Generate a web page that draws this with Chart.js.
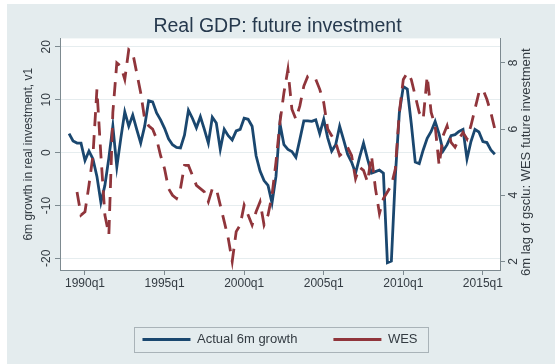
<!DOCTYPE html>
<html>
<head>
<meta charset="utf-8">
<script src="https://cdn.jsdelivr.net/npm/chart.js@4/dist/chart.umd.min.js"></script>
<style>
  html, body { margin: 0; padding: 0; background: #fff; }
  canvas { display: block; }
</style>
</head>
<body>
<canvas id="gdp" width="555" height="364"></canvas>
<script>
// quarterly series, 1989q1 .. 2015q4 (index 0 = 1989q1)
const firstQuarter = -4; // quarters relative to 1990q1

const actualGrowth = [
  3.6, 2.2, 1.8, 1.8,       // 1989
  -1.5, 0.3, -1.2, -4.5,    // 1990
  -9.4, -6.2, -1.0, 5.0,    // 1991
  -2.7, 2.7, 7.7, 5.0,      // 1992
  7.1, 4.4, 1.8, 5.0,       // 1993
  9.8, 9.6, 7.5, 6.2,       // 1994
  4.6, 2.6, 1.5, 1.0,       // 1995
  0.9, 3.3, 8.0, 6.5,       // 1996
  4.7, 6.8, 4.4, 1.8,       // 1997
  6.7, 5.6, 0.6, 4.4,       // 1998
  3.2, 2.4, 4.1, 4.4,       // 1999
  6.5, 6.3, 5.0, -0.6,      // 2000
  -3.5, -5.3, -6.2, -9.5,   // 2001
  -4.5, 5.5, 1.5, 0.6,      // 2002
  0.2, -0.9, 2.5, 6.0,      // 2003
  6.0, 5.9, 6.2, 3.6,       // 2004
  6.3, 2.8, 0.3, 1.5,       // 2005
  5.0, 2.4, -0.3, -1.8,     // 2006
  -3.9, -0.9, 1.8, -1.2,    // 2007
  -3.9, -3.6, -3.3, -3.9,   // 2008
  -20.8, -20.5, -4.4, 7.5,  // 2009
  12.5, 12.0, 5.5, -1.8,    // 2010
  -2.1, 0.5, 2.7, 4.0,      // 2011
  5.9, 3.5, 0.3, 1.5,       // 2012
  3.2, 3.4, 4.0, 4.4,       // 2013
  -1.2, 2.1, 4.4, 3.9,      // 2014
  2.1, 1.9, 0.5, -0.3       // 2015
];

const wesLag = [
  null, null, 4.1, 3.4,     // 1989
  3.5, 4.3, 5.2, 7.2,       // 1990
  5.2, 3.4, 2.8, 6.5,       // 1991
  8.0, 7.9, 7.5, 8.4,       // 1992
  8.3, 7.7, 7.1, 6.3,       // 1993
  6.1, 6.0, 5.7, 5.2,       // 1994
  4.8, 4.2, 4.0, 3.9,       // 1995
  4.2, 4.9, 4.9, 4.6,       // 1996
  4.3, 4.2, 4.1, 3.8,       // 1997
  4.2, 4.2, 3.7, 3.2,       // 1998
  2.7, 2.0, 2.9, 3.1,       // 1999
  3.7, 3.4, 3.1, 3.5,       // 2000
  3.8, 3.1, 3.4, 4.0,       // 2001
  5.0, 6.2, 7.1, 7.8,       // 2002
  6.6, 6.3, 6.7, 7.3,       // 2003
  7.6, 7.6, 7.5, 7.2,       // 2004
  6.8, 6.0, 5.8, 5.6,       // 2005
  5.2, 5.3, 5.45, 5.2,      // 2006
  4.5, 4.85, 4.75, 4.4,     // 2007
  5.2, 4.2, 3.45, 3.9,      // 2008
  4.1, 4.3, 4.8, 6.5,       // 2009
  7.5, 7.7, 7.5, 7.0,       // 2010
  6.5, 6.3, 7.6, 6.5,       // 2011
  6.1, 4.9, 5.8, 6.1,       // 2012
  5.6, 5.45, 5.7, 5.9,      // 2013
  5.7, 6.1, 6.6, 7.1,       // 2014
  7.2, 6.9, 6.5, 6.0        // 2015
];

const xTickValues = [0, 20, 40, 60, 80, 100];
const xTickLabels = ['1990q1', '1995q1', '2000q1', '2005q1', '2010q1', '2015q1'];
const leftTicks = [-20, -10, 0, 10, 20];
const rightTicks = [2, 4, 6, 8];

const FONT = "'Liberation Sans', Arial, Helvetica, sans-serif";
const NAVY = '#1a476f';
const MAROON = '#90353b';
const AXIS = '#7d8a90';
const TEXT = '#333b42';

function toPoints(values) {
  return values.map((v, i) => ({ x: firstQuarter + i, y: v }));
}

// outer panel + white plot region
const panelBackground = {
  id: 'panelBackground',
  beforeDraw(chart) {
    const { ctx, chartArea } = chart;
    ctx.save();
    ctx.fillStyle = '#ffffff';
    ctx.fillRect(0, 0, chart.width, chart.height);
    ctx.fillStyle = '#e4ecee';
    ctx.fillRect(7, 4, chart.width - 7, chart.height - 4);
    ctx.fillStyle = '#ffffff';
    ctx.fillRect(chartArea.left, chartArea.top, chartArea.right - chartArea.left, chartArea.bottom - chartArea.top);
    ctx.restore();
  }
};

// frame around legend entries
const legendFrame = {
  id: 'legendFrame',
  afterDraw(chart) {
    const boxes = chart.legend.legendHitBoxes;
    if (!boxes || !boxes.length) return;
    const left = Math.min(...boxes.map(b => b.left)) - 8;
    const right = Math.max(...boxes.map(b => b.left + b.width)) + 11;
    const mid = boxes[0].top + boxes[0].height / 2;
    const ctx = chart.ctx;
    ctx.save();
    ctx.strokeStyle = '#a9b3b8';
    ctx.lineWidth = 1;
    ctx.strokeRect(Math.round(left) + 0.5, Math.round(mid - 12.5) + 0.5, Math.round(right - left), 25);
    ctx.restore();
  }
};

// title for the right-hand axis, reading bottom to top
const rightAxisTitle = {
  id: 'rightAxisTitle',
  afterDraw(chart) {
    const s = chart.scales.y1;
    const ctx = chart.ctx;
    ctx.save();
    ctx.translate(526, (s.top + s.bottom) / 2 + 8);
    ctx.rotate(-Math.PI / 2);
    ctx.font = '13px ' + FONT;
    ctx.fillStyle = TEXT;
    ctx.textAlign = 'center';
    ctx.textBaseline = 'middle';
    ctx.fillText('6m lag of gsclu: WES future investment', 0, 0);
    ctx.restore();
  }
};

new Chart(document.getElementById('gdp'), {
  type: 'line',
  data: {
    datasets: [
      {
        label: 'Actual 6m growth',
        data: toPoints(actualGrowth),
        yAxisID: 'y',
        borderColor: NAVY,
        backgroundColor: NAVY,
        borderWidth: 2.8,
        pointRadius: 0,
        tension: 0,
        order: 1
      },
      {
        label: 'WES',
        data: toPoints(wesLag),
        yAxisID: 'y1',
        borderColor: MAROON,
        backgroundColor: MAROON,
        borderWidth: 2.8,
        borderDash: [14, 9],
        pointRadius: 0,
        tension: 0,
        order: 0
      }
    ]
  },
  options: {
    responsive: false,
    animation: false,
    layout: { padding: { left: 0, right: 0, top: 0, bottom: 8 } },
    scales: {
      x: {
        type: 'linear',
        min: -6.28,
        max: 104.3,
        afterBuildTicks: s => { s.ticks = xTickValues.map(v => ({ value: v })); },
        afterFit: s => { s.height = 27; },
        ticks: {
          autoSkip: false,
          maxRotation: 0,
          padding: 1,
          color: TEXT,
          font: { family: FONT, size: 12 },
          callback: v => xTickLabels[xTickValues.indexOf(v)]
        },
        grid: { drawOnChartArea: false, drawTicks: true, tickLength: 5, tickColor: AXIS },
        border: { display: true, color: AXIS, width: 1 }
      },
      y: {
        position: 'left',
        min: -22.2,
        max: 21.6,
        afterBuildTicks: s => { s.ticks = leftTicks.map(v => ({ value: v })); },
        afterFit: s => { s.width = 60; },
        ticks: {
          minRotation: 90,
          maxRotation: 90,
          crossAlign: 'center',
          padding: 0,
          color: TEXT,
          font: { family: FONT, size: 12 }
        },
        grid: { color: '#e6edef', lineWidth: 1, drawTicks: true, tickLength: 5, tickColor: AXIS },
        border: { display: true, color: AXIS, width: 1 },
        title: {
          display: true,
          text: '6m growth in real investment, v1',
          color: TEXT,
          font: { family: FONT, size: 12 },
          padding: { top: 21, bottom: 0 }
        }
      },
      y1: {
        position: 'right',
        min: 1.74,
        max: 8.74,
        afterBuildTicks: s => { s.ticks = rightTicks.map(v => ({ value: v })); },
        afterFit: s => { s.width = 55; },
        ticks: {
          minRotation: 90,
          maxRotation: 90,
          crossAlign: 'center',
          padding: 5,
          color: TEXT,
          font: { family: FONT, size: 12 }
        },
        grid: { drawOnChartArea: false, drawTicks: true, tickLength: 5, tickColor: AXIS },
        border: { display: true, color: AXIS, width: 1 }
      }
    },
    plugins: {
      title: {
        display: true,
        text: 'Real GDP: future investment',
        color: '#26394d',
        font: { family: FONT, size: 19.5, weight: 'normal' },
        padding: { top: 15, bottom: 0 }
      },
      legend: {
        display: true,
        position: 'bottom',
        fullSize: false,
        labels: {
          usePointStyle: true,
          pointStyle: 'line',
          pointStyleWidth: 48,
          padding: 36,
          color: TEXT,
          font: { family: FONT, size: 13 },
          sort: (a, b) => a.datasetIndex - b.datasetIndex
        }
      },
      tooltip: { enabled: false }
    }
  },
  plugins: [panelBackground, legendFrame, rightAxisTitle]
});
</script>
</body>
</html>
